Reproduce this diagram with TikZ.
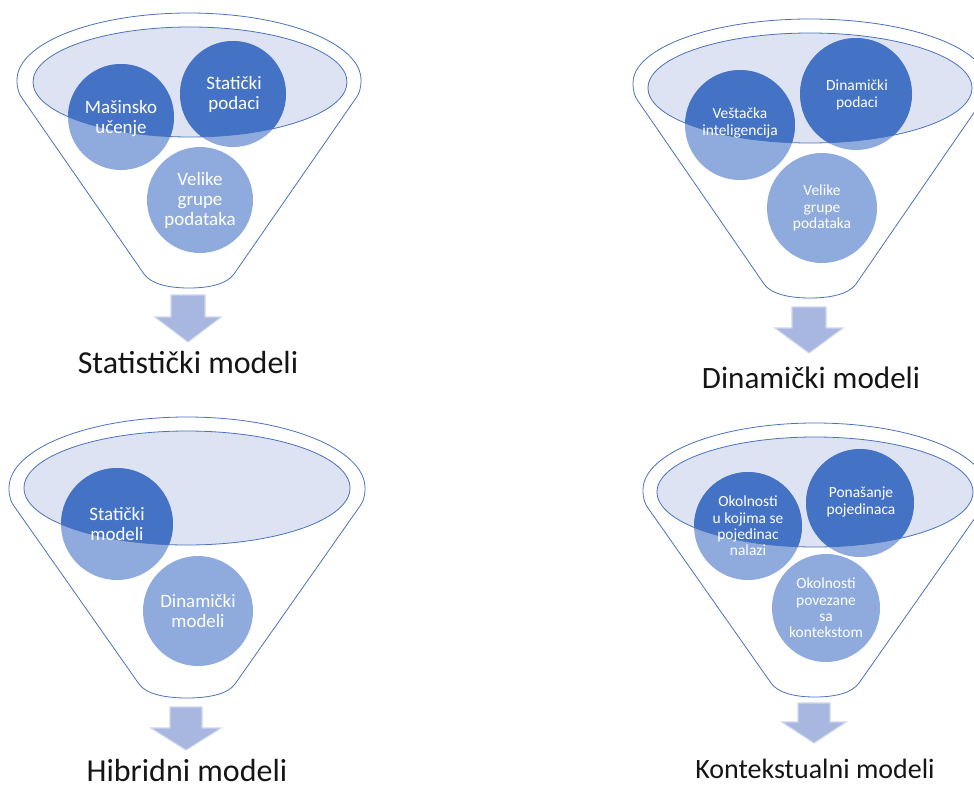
\documentclass[tikz,border=0pt]{standalone}
\usepackage{fontspec}
\setmainfont{Carlito}
\definecolor{darkc}{HTML}{4472C4}
\definecolor{lightc}{HTML}{8FAADC}
\definecolor{ellc}{HTML}{DDE3F2}
\definecolor{linec}{HTML}{4A72BE}
\definecolor{arrc}{HTML}{A7B7E0}
\definecolor{arrb}{HTML}{CDD6EE}
\definecolor{labc}{HTML}{151515}
\tikzset{
  funnelline/.style={draw=linec, line width=0.6pt},
  bubtext/.style={text=white, align=center, inner sep=0pt},
  bigbub/.style={bubtext, font=\fontsize{14.2}{15}\selectfont},
  smallbub/.style={bubtext, font=\fontsize{11.6}{12.2}\selectfont},
  lab/.style={text=labc, anchor=base, inner sep=0pt},
  blockarrow/.style={fill=arrc, draw=arrb, line width=0.8pt, line join=miter}
}
% cx cy Ro ryo by bw
\newcommand\funnelbody[6]{%
  \filldraw[funnelline, fill=white] ({#1-#3},#2) arc[start angle=180,end angle=360,x radius=#3,y radius=#4]
   .. controls ({#1+#3},{#2+9}) and ({#1+#3-2},{#2+14}) .. ({#1+#3-5},{#2+18})
   -- ({#1+#6+4},{#5-14})
   .. controls ({#1+#6-3},{#5-4}) and ({#1+#6/2},{#5}) .. (#1,#5)
   .. controls ({#1-#6/2},{#5}) and ({#1-#6+3},{#5-4}) .. ({#1-#6-4},{#5-14})
   -- ({#1-#3+5},{#2+18})
   .. controls ({#1-#3+2},{#2+14}) and ({#1-#3},{#2+9}) .. cycle;}
% cx shafthalf shafttop headhalf headtop tip
\newcommand\blockdown[6]{%
  \filldraw[blockarrow] ({#1-#2},#3) -- ({#1+#2},#3) -- ({#1+#2},#5) -- ({#1+#4},#5)
   -- (#1,#6) -- ({#1-#4},#5) -- ({#1-#2},#5) -- cycle;}
\begin{document}
\begin{tikzpicture}[x=0.75pt,y=-0.75pt]
\useasboundingbox (0,0) rectangle (974,789);

%% ---------- Funnel 1 ----------
\funnelbody{189}{80}{172}{67}{288}{41}
\fill[ellc] (190,82) ellipse[x radius=157,y radius=55];
\fill[lightc] (121,117) circle[radius=53];
\fill[lightc] (233,94) circle[radius=53];
\fill[lightc] (200,200) circle[radius=53];
\begin{scope}
  \clip (190,82) ellipse[x radius=157,y radius=55];
  \fill[darkc] (121,117) circle[radius=53];
  \fill[darkc] (233,94) circle[radius=53];
\end{scope}
\draw[funnelline] (190,82) ellipse[x radius=157,y radius=55];
\node[bigbub] (a1) at (121,119) {Mašinsko\\učenje};
\node[bigbub] (a2) at (234,94) {Statički\\podaci};
\node[bigbub] (a3) at (200,200) {Velike\\grupe\\podataka};
\blockdown{188}{17}{295}{33}{317}{342}
\node[lab, font=\fontsize{24}{28}\selectfont] (l1) at (188,373) {Statistički modeli};

%% ---------- Funnel 2 ----------
\funnelbody{810}{83}{177}{64}{298}{42}
\fill[ellc] (810,88) ellipse[x radius=162,y radius=55];
\fill[lightc] (740,125) circle[radius=55];
\fill[lightc] (856,94) circle[radius=56];
\fill[lightc] (822,208) circle[radius=55];
\begin{scope}
  \clip (810,88) ellipse[x radius=162,y radius=55];
  \fill[darkc] (740,125) circle[radius=55];
  \fill[darkc] (856,94) circle[radius=56];
\end{scope}
\draw[funnelline] (810,88) ellipse[x radius=162,y radius=55];
\node[smallbub] (b1) at (740,123) {Veštačka\\inteligencija};
\node[smallbub] (b2) at (857,95) {Dinamički\\podaci};
\node[smallbub] (b3) at (822,208) {Velike\\grupe\\podataka};
\blockdown{809}{17}{307}{34}{328}{353}
\node[lab, font=\fontsize{23.3}{28}\selectfont] (l2) at (811,388) {Dinamički modeli};

%% ---------- Funnel 3 ----------
\funnelbody{187}{488}{178}{71}{698}{44}
\fill[ellc] (187,488) ellipse[x radius=163,y radius=57];
\fill[lightc] (117,524) circle[radius=56];
\fill[lightc] (198,611) circle[radius=55];
\begin{scope}
  \clip (187,488) ellipse[x radius=163,y radius=57];
  \fill[darkc] (117,524) circle[radius=56];
\end{scope}
\draw[funnelline] (187,488) ellipse[x radius=163,y radius=57];
\node[bigbub] (c1) at (117,524) {Statički\\modeli};
\node[bigbub] (c2) at (198,611) {Dinamički\\modeli};
\blockdown{186}{16}{707}{35}{728}{750}
\node[lab, font=\fontsize{24}{28}\selectfont] (l3) at (187,781) {Hibridni modeli};

%% ---------- Funnel 4 ----------
\funnelbody{815}{490}{172}{67}{697}{40}
\fill[ellc] (815,492) ellipse[x radius=158,y radius=55];
\fill[lightc] (748,526) circle[radius=54];
\fill[lightc] (860,503) circle[radius=54];
\fill[lightc] (826,608) circle[radius=54];
\begin{scope}
  \clip (815,492) ellipse[x radius=158,y radius=55];
  \fill[darkc] (748,526) circle[radius=54];
  \fill[darkc] (860,503) circle[radius=54];
\end{scope}
\draw[funnelline] (815,492) ellipse[x radius=158,y radius=55];
\node[smallbub] (d1) at (748,526) {Okolnosti\\u kojima se\\pojedinac\\nalazi};
\node[smallbub] (d2) at (861,502) {Ponašanje\\pojedinaca};
\node[smallbub] (d3) at (826,608) {Okolnosti\\povezane\\sa\\kontekstom};
\blockdown{814}{16}{703}{32}{722}{743}
\node[lab, font=\fontsize{21}{26}\selectfont] (l4) at (815,778) {Kontekstualni modeli};
\end{tikzpicture}
\end{document}
